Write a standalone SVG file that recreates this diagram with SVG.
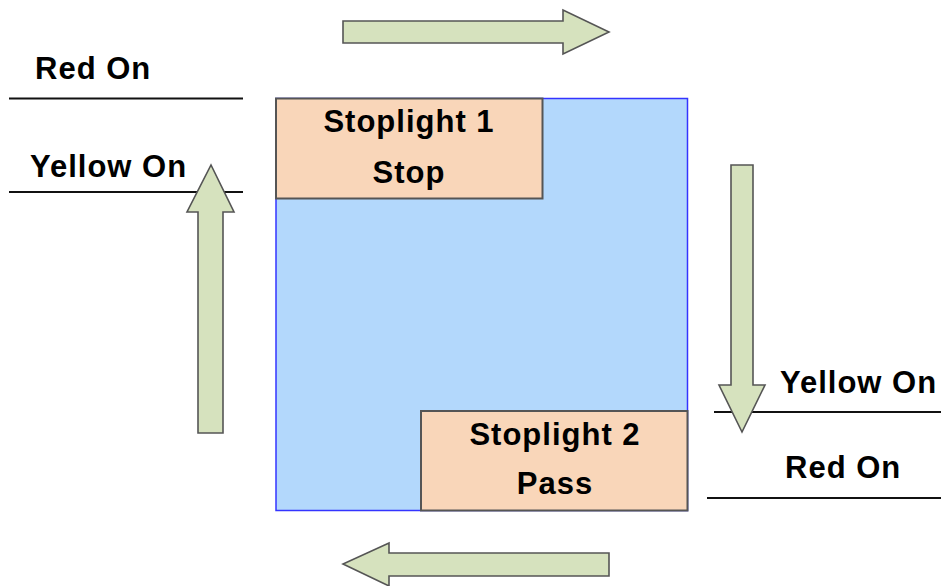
<svg xmlns="http://www.w3.org/2000/svg" width="941" height="586" viewBox="0 0 941 586">
  <style>
    .lbl { font-family: "Liberation Sans", Arial, sans-serif; font-weight: bold; font-size: 31px; letter-spacing: 1px; fill: #000; }
    .mid { text-anchor: middle; }
    .light { fill: #f9d6b9; stroke: #555; stroke-width: 2; }
    .rule { stroke: #111; stroke-width: 2.2; }
    .flow { fill: #d6e2be; stroke: #555; stroke-width: 1.6; stroke-linejoin: miter; }
  </style>

  <!-- intersection area -->
  <g id="intersection">
    <rect x="276" y="98.5" width="411.5" height="412" fill="#b3d8fc" stroke="#3434ff" stroke-width="1.5"/>
  </g>

  <!-- stoplight 1 -->
  <g id="stoplight1">
    <rect class="light" x="276" y="98.5" width="266.5" height="100"/>
    <text class="lbl mid" x="409" y="132">Stoplight 1</text>
    <text class="lbl mid" x="409" y="183">Stop</text>
  </g>

  <!-- stoplight 2 -->
  <g id="stoplight2">
    <rect class="light" x="421" y="411" width="266.5" height="99.5"/>
    <text class="lbl mid" x="555" y="445">Stoplight 2</text>
    <text class="lbl mid" x="555" y="494">Pass</text>
  </g>

  <!-- signal state markers, left side -->
  <g id="left-red">
    <line class="rule" x1="9" y1="98.5" x2="243" y2="98.5"/>
    <text class="lbl" x="35" y="79">Red On</text>
  </g>
  <g id="left-yellow">
    <line class="rule" x1="9" y1="192" x2="243" y2="192"/>
    <text class="lbl" x="30" y="177">Yellow On</text>
  </g>

  <!-- signal state markers, right side -->
  <g id="right-yellow">
    <line class="rule" x1="714" y1="412" x2="941" y2="412"/>
    <text class="lbl" x="780" y="393">Yellow On</text>
  </g>
  <g id="right-red">
    <line class="rule" x1="707" y1="498" x2="941" y2="498"/>
    <text class="lbl" x="785" y="478">Red On</text>
  </g>

  <!-- traffic flow arrows -->
  <g id="connectors">
    <polygon class="flow" points="343,21 563,21 563,10 609,32 563,54 563,43 343,43"/>
    <polygon class="flow" points="731,165 753,165 753,385 765,385 742,432 719,385 731,385"/>
    <polygon class="flow" points="609,553 389,553 389,543 343,564 389,586 389,576 609,576"/>
    <polygon class="flow" points="198,433 223,433 223,212 234,212 211,165 187,212 198,212"/>
  </g>
</svg>
